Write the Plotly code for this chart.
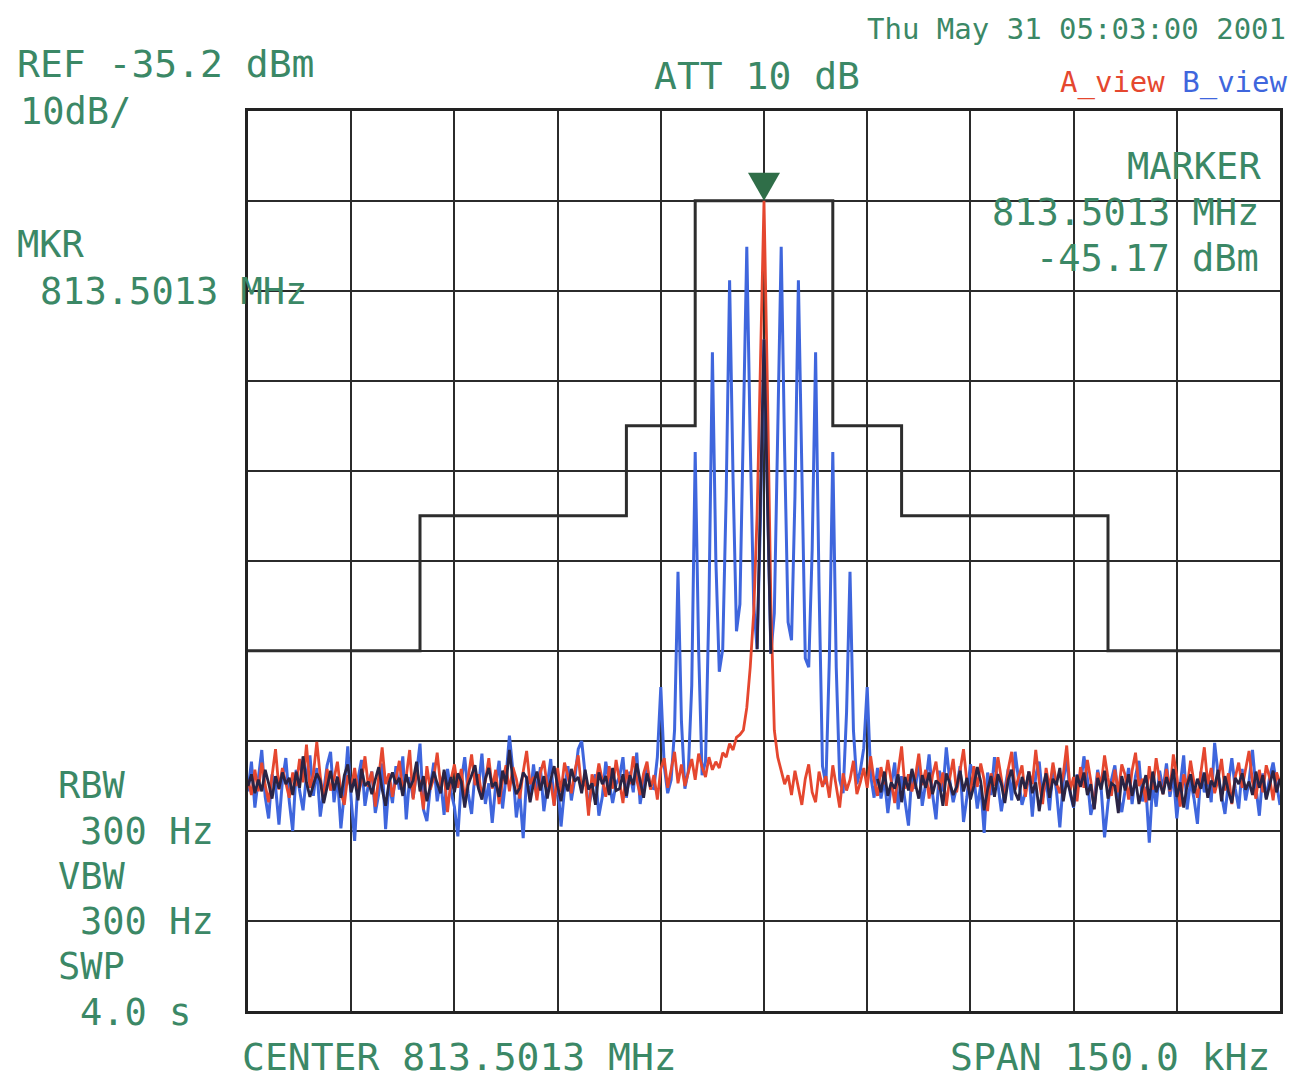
import numpy as np
import plotly.graph_objects as go

# ---------------- instrument settings ----------------
REF_LEVEL = -35.2        # dBm, top graticule line
DB_PER_DIV = 10
CENTER_MHZ = 813.5013
SPAN_KHZ = 150.0
MARKER_FREQ_KHZ = 0.0    # offset from centre
MARKER_DBM = -45.17

# ---------------- limit mask (step line) ----------------
mask_freq = [-75, -50, -20, -10, 10, 20, 50, 75]
mask_dbm = [-95.17, -80.17, -70.17, -45.17, -70.17, -80.17, -95.17, -95.17]

# ---------------- trace A (red) ----------------
red_left = [
    -109.5, -111.2, -108.4, -110.8, -107.6, -110.1, -112.0, -109.3, -106.1, -110.6, -108.2, -109.9,
    -111.5, -108.7, -110.2, -107.2, -109.8, -105.6, -110.4, -108.9, -105.3, -109.1, -111.8, -108.3,
    -110.7, -109.4, -107.5, -110.9, -112.3, -109.0, -110.5, -108.2, -111.1, -109.7, -106.9, -110.3,
    -108.6, -112.5, -109.2, -105.9, -110.0, -108.8, -111.4, -109.6, -107.4, -110.8, -109.1, -106.2,
    -111.7, -108.5, -109.9, -112.8, -108.0, -110.6, -109.3, -106.5, -110.2, -108.7, -113.1, -109.5,
    -107.8, -110.4, -108.3, -111.9, -109.0, -106.7, -110.1, -108.9, -111.3, -109.7, -107.1, -110.5,
    -108.4, -112.2, -109.6, -107.9, -110.8, -108.1, -109.4, -111.6, -108.6, -106.3, -110.0, -109.2,
    -111.8, -108.7, -107.4, -110.3, -109.8, -112.4, -108.2, -110.9, -107.6, -109.1, -111.0, -108.5,
    -106.8, -110.7, -109.3, -113.5, -108.9, -110.2, -107.7, -109.6, -111.4, -108.0, -110.5, -107.3,
    -109.8, -112.1, -108.4, -110.0, -106.9, -109.5, -111.2, -108.8, -107.5, -110.6, -109.0, -111.7,
    -108.3, -107.1, -110.4, -108.6, -106.4, -109.9, -107.8, -110.2, -108.7, -107.2, -109.5, -106.6,
    -108.1, -109.2, -107.0, -108.4, -107.5, -108.2, -106.5, -107.0, -105.5, -106.2, -104.8, -104.5,
]
red_center = [-104.0, -101.5, -97.0, -91.0, -80.0, -64.0, -45.17, -66.0, -90.0, -104.0, -107.0, -108.5, -110.0]
red_right = [
    -109.0, -111.2, -108.5, -110.6, -112.3, -109.4, -107.8, -110.9, -112.0, -108.6, -110.3, -109.1,
    -111.5, -107.9, -110.2, -112.6, -108.8, -110.7, -109.5, -107.4, -111.1, -109.8, -108.2, -110.4,
    -106.9, -109.6, -111.3, -108.1, -110.0, -107.3, -109.7, -112.1, -108.6, -105.8, -110.5, -108.9,
    -110.8, -109.2, -106.6, -110.1, -108.4, -111.6, -109.0, -107.5, -110.6, -108.7, -112.4, -109.3,
    -107.2, -110.9, -108.5, -106.1, -109.8, -111.2, -108.0, -110.3, -107.7, -109.5, -113.0, -108.8,
    -110.2, -107.0, -109.4, -111.8, -108.3, -106.4, -110.6, -109.1, -107.9, -111.4, -108.6, -110.0,
    -106.2, -109.7, -112.2, -108.2, -110.5, -107.6, -109.9, -111.0, -108.9, -105.7, -110.7, -109.2,
    -111.9, -108.1, -110.4, -107.3, -109.6, -112.7, -108.7, -110.1, -106.8, -109.3, -111.3, -108.4,
    -110.9, -107.8, -109.0, -111.7, -108.5, -106.5, -110.2, -109.4, -112.0, -108.0, -110.6, -107.1,
    -109.6, -111.1, -108.3, -110.8, -106.7, -109.1, -112.5, -108.9, -110.3, -107.4, -109.8, -111.5,
    -108.6, -105.9, -110.0, -108.2, -111.0, -109.5, -107.2, -110.7, -108.8, -112.2, -109.2, -107.6,
    -110.4, -108.1, -106.3, -109.7, -111.6, -108.4, -110.9, -107.9, -109.3, -111.8, -108.7, -109.9,
]

# ---------------- trace B (blue) ----------------
blue_left = [
    -110.8, -107.5, -112.6, -109.3, -106.2, -111.4, -113.8, -108.9, -110.2, -114.5, -109.6, -107.1,
    -111.9, -115.2, -108.4, -110.7, -112.9, -109.0, -106.8, -111.3, -108.2, -113.6, -110.5, -107.9,
    -106.4, -112.0, -109.1, -114.9, -110.9, -105.8, -111.7, -116.3, -109.4, -107.3, -112.4, -110.0,
    -108.6, -113.2, -111.1, -107.7, -115.0, -109.8, -112.1, -108.0, -110.6, -106.9, -113.9, -109.2,
    -111.5, -108.8, -105.5, -112.8, -114.1, -110.3, -107.6, -111.9, -109.5, -113.4, -108.3, -110.8,
    -112.5, -115.8, -109.7, -107.0, -111.0, -113.3, -108.7, -110.4, -106.6, -112.2, -109.9, -114.3,
    -110.1, -107.4, -112.7, -109.2, -104.6, -108.5, -113.7, -110.9, -116.0, -109.1, -111.6, -107.8,
    -111.2, -108.1, -113.0, -110.2, -107.2, -112.3, -109.6, -114.7, -110.6, -108.0, -111.8, -109.4,
    -106.1, -105.2, -109.3, -112.6, -110.7, -108.9, -113.5, -111.4, -107.5, -109.8, -112.1, -110.0,
    -109.2, -107.0, -111.5, -108.6, -110.9, -106.5, -112.2, -109.7, -108.1, -110.4,
]
# -16 kHz ... +16 kHz in 0.5 kHz steps (sidebands every 2.5 kHz)
blue_comb = [
    -110.5, -107.0, -99.2, -108.0, -111.0, -109.5, -104.0, -86.4, -103.0, -110.5,
    -108.5, -99.0, -73.1, -95.0, -109.0, -107.5, -90.0, -62.0, -85.0, -97.5,
    -95.0, -78.0, -54.0, -76.0, -93.0, -90.0, -72.0, -50.3, -72.0, -90.0,
    -95.0, -80.0, -60.6, -80.0, -95.5, -91.0, -72.0, -50.3, -73.0, -92.0,
    -94.0, -78.0, -54.0, -77.0, -96.0, -97.0, -84.0, -62.0, -88.0, -108.0,
    -110.0, -96.0, -73.1, -97.0, -109.5, -111.0, -102.0, -86.4, -104.0, -110.0,
    -108.5, -106.0, -99.2, -109.0, -111.5,
]
blue_right = [
    -108.2, -111.6, -109.4, -113.2, -110.0, -107.6, -112.8, -109.1, -111.9, -114.6, -108.8, -110.5,
    -107.3, -112.4, -109.9, -106.7, -111.1, -113.9, -108.5, -110.8, -105.9, -109.6, -112.0, -110.3,
    -108.0, -114.2, -111.4, -107.8, -109.2, -112.7, -110.1, -115.4, -108.7, -111.2, -107.0, -109.8,
    -113.0, -110.6, -108.3, -111.8, -106.4, -109.5, -112.3, -110.9, -108.6, -113.6, -109.0, -107.5,
    -111.5, -109.3, -112.9, -108.1, -110.7, -114.8, -109.7, -107.2, -111.0, -112.6, -108.9, -110.2,
    -106.9, -109.4, -113.4, -111.7, -108.4, -110.4, -115.9, -112.1, -109.5, -107.9, -111.3, -113.1,
    -110.8, -108.2, -112.2, -109.1, -107.4, -111.9, -110.3, -116.5, -109.8, -112.5, -108.5, -110.6,
    -107.7, -111.4, -109.0, -113.8, -110.1, -106.8, -112.8, -109.6, -111.6, -114.4, -108.6, -110.9,
    -109.3, -112.0, -105.4, -108.9, -111.2, -113.3, -109.9, -107.1, -110.5, -112.7, -108.3, -111.8,
    -109.7, -106.2, -110.4, -113.5, -108.8, -111.5, -109.2, -107.6, -110.0, -112.3,
]

# ---------------- dark (overlapping) trace ----------------
dark_left = [
    -110.2, -108.9, -111.0, -109.5, -110.8, -108.4, -109.9, -111.6, -109.1, -110.5, -108.7, -110.0,
    -109.3, -111.2, -108.6, -110.4, -106.9, -109.8, -111.4, -110.1, -108.8, -109.6, -112.1, -110.3,
    -108.5, -110.7, -109.2, -111.5, -109.0, -107.8, -110.9, -109.4, -111.8, -108.3, -110.2, -109.7,
    -111.1, -109.5, -108.1, -110.6, -112.4, -109.8, -108.7, -110.0, -109.3, -111.3, -108.9, -110.4,
    -109.6, -107.5, -110.8, -109.1, -111.9, -110.2, -108.6, -109.9, -111.0, -108.4, -110.6, -109.2,
    -110.9, -108.8, -109.7, -112.6, -110.1, -109.0, -107.9, -110.5, -111.7, -109.4, -108.2, -110.3,
    -109.8, -111.4, -108.5, -110.0, -106.2, -109.6, -111.1, -110.4, -108.7, -109.3, -112.0, -109.9,
    -108.6, -110.7, -109.1, -111.6, -109.5, -108.0, -110.2, -111.9, -109.4, -110.8, -108.3, -109.7,
    -109.2, -111.0, -108.4, -110.6, -109.9, -112.3, -108.7, -110.0, -109.1, -111.2, -108.2, -110.7,
    -110.5, -108.9, -111.3, -109.0, -110.1, -107.7, -109.8, -111.5, -108.8, -110.3,
]
dark_center = [-95.0, -78.0, -60.6, -78.0, -95.5]
dark_right = [
    -109.4, -110.9, -108.6, -111.3, -109.8, -110.5, -108.9, -112.0, -109.2, -110.7, -108.3, -110.1,
    -111.6, -109.0, -110.4, -108.7, -111.1, -109.6, -110.0, -112.4, -108.8, -109.9, -111.2, -110.3,
    -108.5, -110.8, -109.3, -111.7, -110.2, -108.1, -109.7, -112.9, -110.6, -109.1, -111.4, -108.9,
    -110.0, -112.1, -109.5, -108.4, -110.9, -111.8, -109.2, -110.5, -108.6, -111.0, -109.8, -113.0,
    -110.4, -108.8, -111.5, -109.4, -110.1, -108.2, -111.9, -109.6, -110.8, -112.5, -109.0, -110.3,
    -108.7, -111.2, -110.0, -112.8, -109.3, -110.6, -108.5, -111.6, -109.9, -110.2, -113.2, -109.1,
    -110.7, -108.9, -111.3, -109.5, -112.2, -110.4, -109.0, -111.8, -108.6, -110.9, -109.7, -111.1,
    -109.2, -110.6, -108.3, -111.4, -109.8, -112.6, -110.1, -108.9, -111.0, -109.4, -110.5, -108.7,
    -111.5, -109.6, -110.3, -108.4, -111.9, -109.1, -110.8, -112.1, -109.3, -110.0, -108.8, -110.6,
    -109.7, -111.2, -108.6, -110.4, -109.0, -111.7, -110.2, -108.5, -110.9, -109.4,
]


def seg(start, stop, values):
    return list(np.linspace(start, stop, len(values)))


half = SPAN_KHZ / 2
red_x = seg(-half, -3.5, red_left) + seg(-3.0, 3.0, red_center) + seg(3.5, half, red_right)
red_y = red_left + red_center + red_right
blue_x = seg(-half, -16.5, blue_left) + seg(-16.0, 16.0, blue_comb) + seg(16.5, half, blue_right)
blue_y = blue_left + blue_comb + blue_right
dark_x = seg(-half, -16.5, dark_left) + [None] + seg(-1.0, 1.0, dark_center) + [None] + seg(16.5, half, dark_right)
dark_y = dark_left + [None] + dark_center + [None] + dark_right

RED = "#e5472f"
BLUE = "#3f66dd"
DARK = "#2a2444"
GREEN_TXT = "#3b8866"

fig = go.Figure()
fig.add_trace(go.Scatter(x=mask_freq, y=mask_dbm, mode="lines", line=dict(color="#2d2d2d", width=3, shape="hv"),
                         hoverinfo="skip", showlegend=False))
fig.add_trace(go.Scatter(x=blue_x, y=blue_y, mode="lines", line=dict(color=BLUE, width=3),
                         hoverinfo="skip", showlegend=False))
fig.add_trace(go.Scatter(x=red_x, y=red_y, mode="lines", line=dict(color=RED, width=2.8),
                         hoverinfo="skip", showlegend=False))
fig.add_trace(go.Scatter(x=dark_x, y=dark_y, mode="lines", line=dict(color=DARK, width=2.8),
                         hoverinfo="skip", showlegend=False, connectgaps=False))

# marker triangle sitting on the peak
fig.add_shape(type="path", xref="x", yref="y", xsizemode="pixel", ysizemode="pixel",
              xanchor=MARKER_FREQ_KHZ, yanchor=MARKER_DBM,
              path="M -16,28 L 16,28 L 0,0 Z", fillcolor="#2f6e48", line=dict(width=0))

# ---------------- layout / text ----------------
PAGE_OFFSET = 8                     # default body margin of the html page
W, H = 1297 - PAGE_OFFSET, 1092 - PAGE_OFFSET
L, R, T, B = 240, 17, 103, 81
PW, PH = W - L - R, H - T - B

FONT = "DejaVu Sans Mono, Liberation Mono, monospace"


def px(x_page):
    return (x_page - PAGE_OFFSET - L) / PW


def py(y_page):
    return (H - B - (y_page - PAGE_OFFSET)) / PH


texts = [
    ("REF -35.2 dBm", 15, 64, "left", 38, GREEN_TXT),
    ("10dB/", 18, 111, "left", 37, GREEN_TXT),
    ("MKR", 15, 245, "left", 37, GREEN_TXT),
    ("813.5013 MHz", 38, 291, "left", 37, GREEN_TXT),
    ("ATT 10 dB", 652, 76, "left", 38, GREEN_TXT),
    ("Thu May 31 05:03:00 2001", 1288, 29, "right", 29, GREEN_TXT),
    (f'<span style="color:{RED}">A_view</span> <span style="color:{BLUE}">B_view</span>', 1290, 82, "right", 29, GREEN_TXT),
    ("MARKER", 1263, 167, "right", 37, GREEN_TXT),
    (f"{CENTER_MHZ:.4f} MHz", 1261, 213, "right", 37, GREEN_TXT),
    (f"{MARKER_DBM:.2f} dBm", 1261, 259, "right", 37, GREEN_TXT),
    ("RBW", 56, 785, "left", 37, GREEN_TXT),
    ("300 Hz", 78, 831, "left", 37, GREEN_TXT),
    ("VBW", 56, 876, "left", 37, GREEN_TXT),
    ("300 Hz", 78, 921, "left", 37, GREEN_TXT),
    ("SWP", 56, 966, "left", 37, GREEN_TXT),
    ("4.0 s", 78, 1012, "left", 37, GREEN_TXT),
    (f"CENTER {CENTER_MHZ:.4f} MHz", 240, 1057, "left", 38, GREEN_TXT),
    (f"SPAN {SPAN_KHZ:.1f} kHz", 1272, 1057, "right", 38, GREEN_TXT),
]
annotations = []
for txt, x, y, anchor, size, col in texts:
    annotations.append(dict(text=txt, x=px(x), y=py(y), xref="paper", yref="paper",
                            xanchor=anchor, yanchor="middle", showarrow=False,
                            font=dict(family=FONT, size=size, color=col)))

axis_common = dict(showgrid=True, gridcolor="#2b2b2b", gridwidth=1.6, zeroline=False,
                   showticklabels=False, ticks="", showline=True, linecolor="#222222",
                   linewidth=2.5, mirror=True)
fig.update_layout(
    width=W, height=H, autosize=False,
    margin=dict(l=L, r=R, t=T, b=B, pad=0),
    paper_bgcolor="white", plot_bgcolor="white",
    xaxis=dict(range=[-half, half], tick0=-half, dtick=SPAN_KHZ / 10, **axis_common),
    yaxis=dict(range=[REF_LEVEL - 10 * DB_PER_DIV, REF_LEVEL], tick0=REF_LEVEL, dtick=DB_PER_DIV, **axis_common),
    annotations=annotations,
    showlegend=False,
)

fig.write_html("out.html")
